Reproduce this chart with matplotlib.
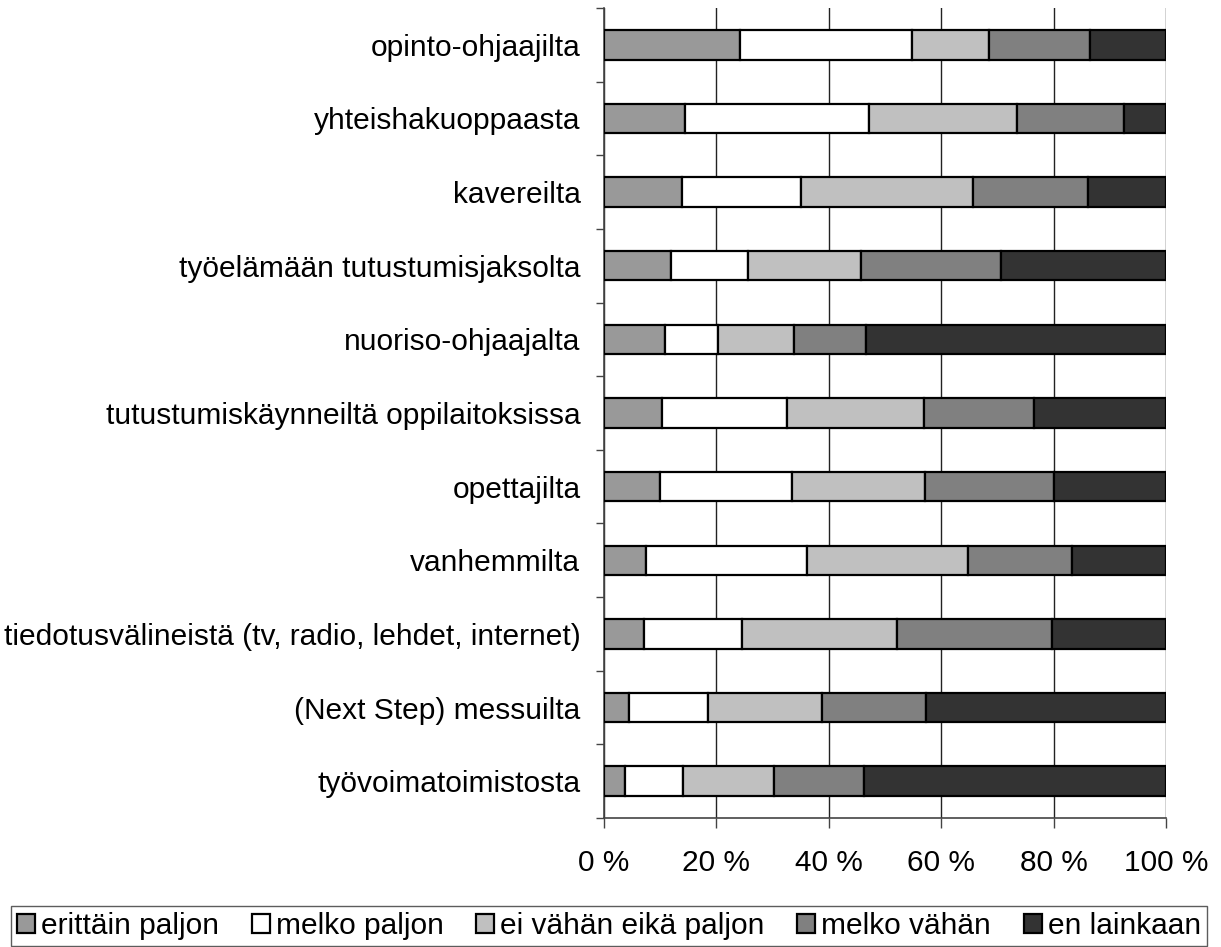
import matplotlib.pyplot as plt
import numpy as np

plt.rcParams["font.family"] = ["Liberation Sans", "DejaVu Sans"]

categories = [
    "opinto-ohjaajilta",
    "yhteishakuoppaasta",
    "kavereilta",
    "työelämään tutustumisjaksolta",
    "nuoriso-ohjaajalta",
    "tutustumiskäynneiltä oppilaitoksissa",
    "opettajilta",
    "vanhemmilta",
    "tiedotusvälineistä (tv, radio, lehdet, internet)",
    "(Next Step) messuilta",
    "työvoimatoimistosta",
]

series_names = [
    "erittäin paljon",
    "melko paljon",
    "ei vähän eikä paljon",
    "melko vähän",
    "en lainkaan",
]

erittain_paljon = [24.2, 14.5, 13.9, 11.9, 10.9, 10.3, 9.9, 7.4, 7.2, 4.5, 3.8]
melko_paljon = [30.6, 32.6, 21.2, 13.8, 9.3, 22.3, 23.6, 28.7, 17.4, 14.0, 10.3]
ei_vahan_eika_paljon = [13.7, 26.4, 30.6, 20.1, 13.6, 24.3, 23.7, 28.6, 27.6, 20.3, 16.1]
melko_vahan = [18.0, 19.1, 20.4, 24.8, 12.9, 19.7, 22.8, 18.5, 27.6, 18.5, 16.0]
en_lainkaan = [13.5, 7.4, 13.9, 29.4, 53.3, 23.4, 20.0, 16.8, 20.2, 42.7, 53.8]

colors = ["#999999", "#ffffff", "#c0c0c0", "#808080", "#333333"]

series = [erittain_paljon, melko_paljon, ei_vahan_eika_paljon, melko_vahan, en_lainkaan]

FS = 21.5

fig = plt.figure(figsize=(12.21, 9.47), dpi=100)
ax = fig.add_axes([604 / 1221, 1 - 818 / 947, 562 / 1221, 810 / 947])

y = np.arange(len(categories))
left = np.zeros(len(categories))
for name, vals, col in zip(series_names, series, colors):
    vals = np.array(vals)
    ax.barh(y, vals, left=left, height=0.4, color=col, edgecolor="black",
            linewidth=1.6, label=name, zorder=3)
    left += vals

ax.set_xlim(0, 100)
ax.set_ylim(len(categories) - 0.5, -0.5)
ax.set_xticks(np.arange(0, 101, 20))
ax.set_xticklabels([f"{v} %" for v in range(0, 101, 20)])
ax.set_yticks(y)
ax.set_yticklabels(categories)
ax.set_yticks(np.arange(-0.5, len(categories), 1), minor=True)
ax.tick_params(axis="y", which="major", length=0, pad=17, labelsize=FS)
ax.tick_params(axis="y", which="minor", length=6, width=1, color="#444444")
ax.tick_params(axis="x", length=7, width=1, color="#444444", pad=15, labelsize=FS)
ax.xaxis.grid(True, color="#222222", linewidth=1, zorder=0)
for s in ["top", "right"]:
    ax.spines[s].set_visible(False)
ax.spines["left"].set_color("#444444")
ax.spines["bottom"].set_color("#444444")
ax.spines["left"].set_linewidth(1.2)
ax.spines["bottom"].set_linewidth(1.2)

leg = fig.legend(loc="lower center", bbox_to_anchor=(609 / 1221, 1 / 947), ncol=5,
                 fontsize=FS, frameon=True, fancybox=False, edgecolor="#333333",
                 handlelength=0.6, handleheight=0.6, handletextpad=0.2,
                 columnspacing=1.1, borderpad=0.2, borderaxespad=0)
leg.get_frame().set_linewidth(1)

fig.savefig("out.png", dpi=100)
